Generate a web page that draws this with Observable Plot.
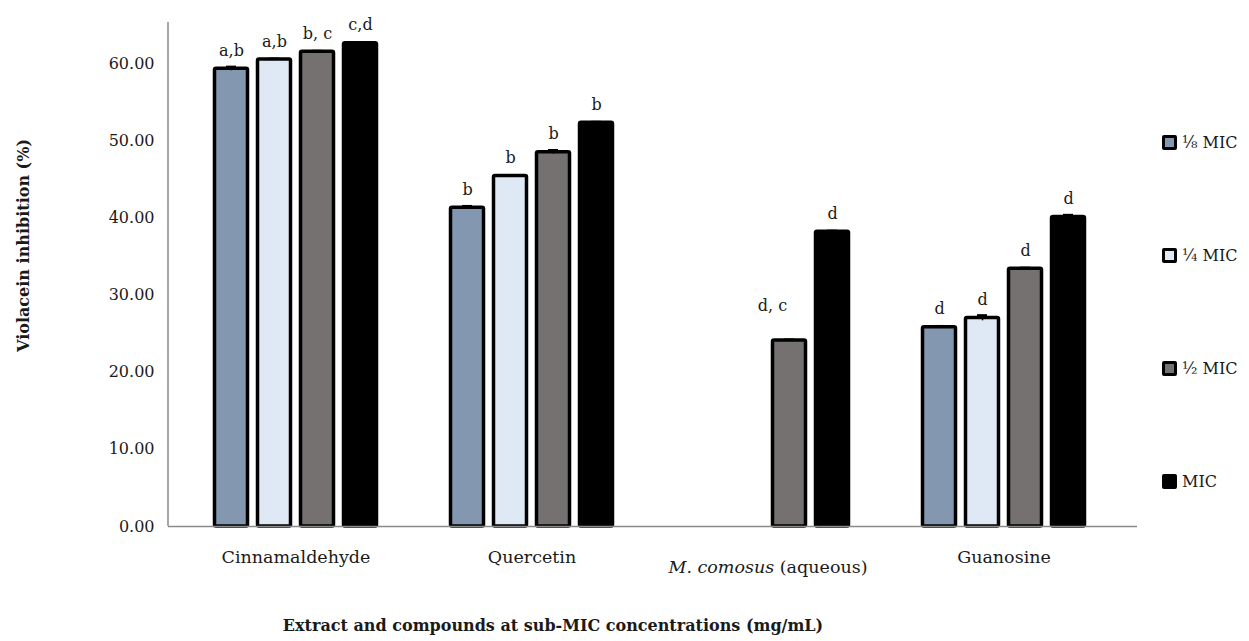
<!DOCTYPE html>
<html>
<head>
<meta charset="utf-8">
<script src="https://cdn.jsdelivr.net/npm/d3@7"></script>
<script src="https://cdn.jsdelivr.net/npm/@observablehq/plot@0.6"></script>
<style>
  html, body { margin: 0; padding: 0; background: #fff; overflow: hidden; }
  #wrap { position: relative; width: 1249px; height: 641px; }
  #legend { position: absolute; left: 1162px; top: 131px; font-family: "DejaVu Serif", serif; font-size: 16px; color: #1a1a1a; }
  #legend .item { height: 113px; }
  #legend .row { display: flex; align-items: center; height: 22px; }
  #legend .sw { width: 9px; height: 9px; border: 3px solid #000; border-radius: 2px; margin-right: 5px; }
</style>
</head>
<body>
<div id="wrap"></div>
<script>
// Violacein inhibition (%) by treatment and concentration
const categories = ["Cinnamaldehyde", "Quercetin", "M. comosus (aqueous)", "Guanosine"];
const series = ["⅛ MIC", "¼ MIC", "½ MIC", "MIC"];
const colors = ["#8497b0", "#dee9f5", "#767171", "#000000"];

const eighthMIC  = [59.3, 41.3, null, 25.8];
const quarterMIC = [60.5, 45.4, null, 27.0];
const halfMIC    = [61.5, 48.5, 24.1, 33.4];
const fullMIC    = [62.6, 52.3, 38.2, 40.1];

const eighthSD  = [0.25, 0.2, null, 0.15];
const quarterSD = [0.1, 0.1, null, 0.35];
const halfSD    = [0.1, 0.25, 0.1, 0.1];
const fullSD    = [0.1, 0.1, 0.1, 0.25];

const eighthLetters  = ["a,b", "b", null, "d"];
const quarterLetters = ["a,b", "b", null, "d"];
const halfLetters    = ["b, c", "b", "d, c", "d"];
const fullLetters    = ["c,d", "b", "d", "d"];

const yTicks = [0, 10, 20, 30, 40, 50, 60];
const yTitle = "Violacein inhibition (%)";
const xTitle = "Extract and compounds at sub-MIC concentrations (mg/mL)";

const values = [eighthMIC, quarterMIC, halfMIC, fullMIC];
const sds = [eighthSD, quarterSD, halfSD, fullSD];
const letters = [eighthLetters, quarterLetters, halfLetters, fullLetters];

// one table per concentration
const tables = series.map((s, i) =>
  categories.map((c, j) => ({
    category: c, series: s, value: values[i][j], sd: sds[i][j], letter: letters[i][j]
  })).filter(d => d.value != null)
);

// bar layout inside each category band (band width 172px, four 43px slots)
const slot = 43, barW = 34;
const pad = (slot - barW) / 2;
const font = "DejaVu Serif";
const fs = 16;

const marks = [];
tables.forEach((rows, i) => {
  const off = (i - 1.5) * slot;
  marks.push(
    Plot.barY(rows, {
      x: "category", y: "value",
      fill: colors[i], stroke: "#000", strokeWidth: 3.5, strokeLinejoin: "round",
      insetLeft: i * slot + pad, insetRight: (3 - i) * slot + pad, rx: 1.5
    }),
    Plot.ruleX(rows, {
      x: "category", y1: d => d.value - d.sd, y2: d => d.value + d.sd,
      dx: off, stroke: "#000", strokeWidth: 1.5
    }),
    Plot.tickY(rows, {
      x: "category", y: d => d.value + d.sd,
      insetLeft: i * slot + 16, insetRight: (3 - i) * slot + 16,
      stroke: "#000", strokeWidth: 2.5
    }),
    Plot.text(rows.filter(d => d.letter && d.letter !== "d, c"), {
      x: "category", y: "value", text: "letter",
      dx: off, dy: -18, fontSize: fs, fill: "#1a1a1a"
    }),
    Plot.text(rows.filter(d => d.letter === "d, c"), {
      x: "category", y: "value", text: "letter",
      dx: off - 17, dy: -35, fontSize: fs, fill: "#1a1a1a"
    })
  );
});

const chart = Plot.plot({
  width: 1249,
  height: 641,
  marginTop: 22,
  marginBottom: 115,
  marginLeft: 168,
  marginRight: 112,
  style: { fontFamily: font, fontSize: fs + "px", color: "#1a1a1a", background: "#fff" },
  x: { domain: categories, padding: 0.274, paddingOuter: 0.137, insetLeft: 8, insetRight: 13.5, label: null },
  y: { domain: [0, 65.3], label: null },
  marks: [
    Plot.axisY({ ticks: yTicks, tickFormat: d3.format(".2f"), tickSize: 0, tickPadding: 14, fontSize: fs }),
    Plot.axisX({ tickSize: 0, tickPadding: 24, fontSize: 17.5, label: null }),
    ...marks,
    Plot.ruleY([0], { stroke: "#8a8a8a", strokeWidth: 1.5 }),
    // vertical axis line along the left edge of the frame
    (index, scales, values, dims) => {
      const line = document.createElementNS("http://www.w3.org/2000/svg", "line");
      line.setAttribute("x1", dims.marginLeft);
      line.setAttribute("x2", dims.marginLeft);
      line.setAttribute("y1", dims.marginTop);
      line.setAttribute("y2", dims.height - dims.marginBottom);
      line.setAttribute("stroke", "#8a8a8a");
      line.setAttribute("stroke-width", 1.5);
      return line;
    },
    Plot.text([yTitle], { frameAnchor: "left", textAnchor: "middle", text: d => d, rotate: -90, dx: -145, dy: -29, fontWeight: "bold", fontSize: fs }),
    Plot.text([xTitle], { frameAnchor: "bottom", text: d => d, dy: 104, dx: -100, fontWeight: "bold", fontSize: fs })
  ]
});

// italic genus name in the third category label
d3.select(chart).selectAll("g[aria-label='x-axis tick label'] text").each(function () {
  const t = d3.select(this);
  if (t.text() === "M. comosus (aqueous)") {
    t.text("");
    t.append("tspan").attr("font-style", "italic").text("M. comosus");
    t.append("tspan").text(" (aqueous)");
    t.attr("transform", function () { return (this.getAttribute("transform") || "") + " translate(0,10)"; });
  }
});

const wrap = document.getElementById("wrap");
wrap.appendChild(chart);

// legend on the right
const legend = document.createElement("div");
legend.id = "legend";
series.forEach((s, i) => {
  const item = document.createElement("div");
  item.className = "item";
  item.innerHTML = `<div class="row"><span class="sw" style="background:${colors[i]}"></span><span>${s}</span></div>`;
  legend.appendChild(item);
});
wrap.appendChild(legend);
</script>
</body>
</html>
